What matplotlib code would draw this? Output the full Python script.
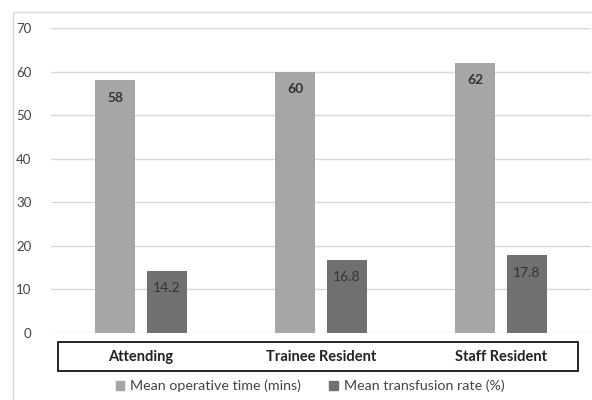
import matplotlib
matplotlib.use("Agg")
import matplotlib.pyplot as plt
from matplotlib.patches import Rectangle
import numpy as np

categories = ["Attending", "Trainee Resident", "Staff Resident"]
operative_time = [58, 60, 62]
transfusion_rate = [14.2, 16.8, 17.8]
series_names = ["Mean operative time (mins)", "Mean transfusion rate (%)"]
yticks = [0, 10, 20, 30, 40, 50, 60, 70]

plt.rcParams['font.family'] = ['Lato', 'DejaVu Sans']

W, H = 592, 400
fig = plt.figure(figsize=(W / 100, H / 100), dpi=100)
fig.patch.set_facecolor("white")

def fx(px):
    return px / W

def fy(py):
    return 1 - py / H

ax = fig.add_axes([fx(51), fy(333), fx(591) - fx(51), fy(28) - fy(333)])

x = np.arange(len(categories))
bw = 0.222
off = 0.144
light = "#a6a6a6"
dark = "#707070"
b1 = ax.bar(x - off, operative_time, bw, color=light, zorder=3)
b2 = ax.bar(x + off, transfusion_rate, bw, color=dark, zorder=3)

for rect, v in zip(b1, operative_time):
    ax.annotate(f"{v:g}", (rect.get_x() + rect.get_width() / 2, v),
                xytext=(0, -12.5), textcoords="offset points", ha="center",
                va="center", fontsize=10, color="#333333", fontweight="bold", zorder=4)
for rect, v in zip(b2, transfusion_rate):
    ax.annotate(f"{v:g}", (rect.get_x() + rect.get_width() / 2, v),
                xytext=(0, -12.5), textcoords="offset points", ha="center",
                va="center", fontsize=10, color="#333333", zorder=4)

ax.set_xlim(-0.5, 2.5)
ax.set_ylim(0, 70)
ax.set_yticks(yticks)
ax.set_yticklabels([str(t) for t in yticks], fontsize=9.5, color="#444444")
ax.tick_params(axis="y", length=0, pad=14)
ax.set_xticks([])
ax.grid(axis="y", color="#d9d9d9", linewidth=1, zorder=0)
for s in ax.spines.values():
    s.set_visible(False)

# outer chart frame
fig.add_artist(Rectangle((fx(13), fy(402)), fx(600) - fx(13), fy(12) - fy(402),
                         transform=fig.transFigure, fill=False,
                         edgecolor="#d9d9d9", linewidth=1))

# category box
fig.add_artist(Rectangle((fx(58), fy(371)), fx(578) - fx(58), fy(342) - fy(371),
                         transform=fig.transFigure, fill=False,
                         edgecolor="black", linewidth=1.2))
for xi, c in zip(x, categories):
    xd = ax.transData.transform((xi, 0))[0] / fig.bbox.width
    fig.text(xd, fy(357), c, ha="center", va="center", fontsize=10.5,
             fontweight="bold", color="#222222")

handles = [Rectangle((0, 0), 1, 1, color=light), Rectangle((0, 0), 1, 1, color=dark)]
fig.legend(handles, series_names, loc="center", bbox_to_anchor=(fx(310), fy(386)),
           ncol=2, frameon=False, fontsize=10.3, handlelength=0.6, handleheight=0.6,
           handletextpad=0.4, columnspacing=2.0, labelcolor="#444444")

fig.savefig("out.png", dpi=100, facecolor="white")
